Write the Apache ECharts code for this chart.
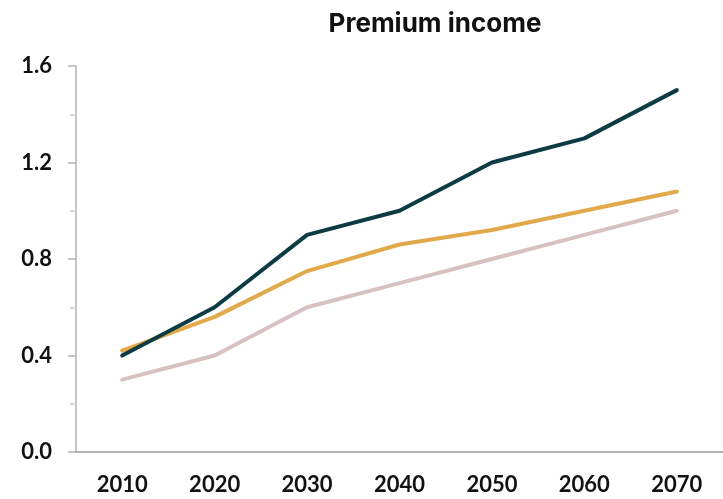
<!DOCTYPE html>
<html>
<head>
<meta charset="utf-8">
<script src="https://cdn.jsdelivr.net/npm/echarts@6/dist/echarts.min.js"></script>
<style>
  html, body { margin: 0; padding: 0; background: #ffffff; }
  #chart { width: 723px; height: 499px; }
</style>
</head>
<body>
<div id="chart"></div>
<script>
// Premium income projections by decade
const years = ['2010', '2020', '2030', '2040', '2050', '2060', '2070'];
const seriesHigh = [0.40, 0.60, 0.90, 1.00, 1.20, 1.30, 1.50];
const seriesMid = [0.42, 0.56, 0.75, 0.86, 0.92, 1.00, 1.08];
const seriesLow = [0.30, 0.40, 0.60, 0.70, 0.80, 0.90, 1.00];
const yTicks = [0, 0.4, 0.8, 1.2, 1.6];

const FONT = 'Lato';

function lineSeries(name, data, color) {
  return {
    name: name,
    type: 'line',
    data: data,
    symbol: 'none',
    lineStyle: { color: color, width: 4, cap: 'round', join: 'round' },
    itemStyle: { color: color }
  };
}

const chart = echarts.init(document.getElementById('chart'), null, { renderer: 'canvas' });
chart.setOption({
  animation: false,
  title: {
    text: 'Premium income',
    left: 430,
    textAlign: 'center',
    top: 6,
    textStyle: { fontFamily: 'Inter', fontWeight: 'bold', fontSize: 26, color: '#111111' }
  },
  grid: { left: 76, right: -4, top: 66, bottom: 47, containLabel: false },
  xAxis: {
    type: 'category',
    data: years,
    boundaryGap: true,
    axisLine: { lineStyle: { color: '#b3b3b3', width: 2 } },
    axisTick: { show: false },
    axisLabel: { margin: 22, fontFamily: FONT, fontWeight: 'bold', fontSize: 22, color: '#111111' },
    splitLine: { show: false }
  },
  yAxis: {
    type: 'value',
    min: yTicks[0],
    max: yTicks[yTicks.length - 1],
    interval: yTicks[1] - yTicks[0],
    axisLine: { show: true, lineStyle: { color: '#b3b3b3', width: 1.5 } },
    axisTick: { show: true, length: 8, lineStyle: { color: '#b3b3b3', width: 1.5 } },
    minorTick: { show: true, splitNumber: 2, length: 6, lineStyle: { color: '#c8c8c8', width: 1.5 } },
    axisLabel: {
      margin: 24,
      fontFamily: FONT, fontWeight: 'bold', fontSize: 22, color: '#111111',
      formatter: v => v.toFixed(1)
    },
    splitLine: { show: false }
  },
  series: [
    lineSeries('Low', seriesLow, '#d7c2c1'),
    lineSeries('Mid', seriesMid, '#e2a94b'),
    lineSeries('High', seriesHigh, '#0d3b43')
  ]
});
</script>
</body>
</html>
